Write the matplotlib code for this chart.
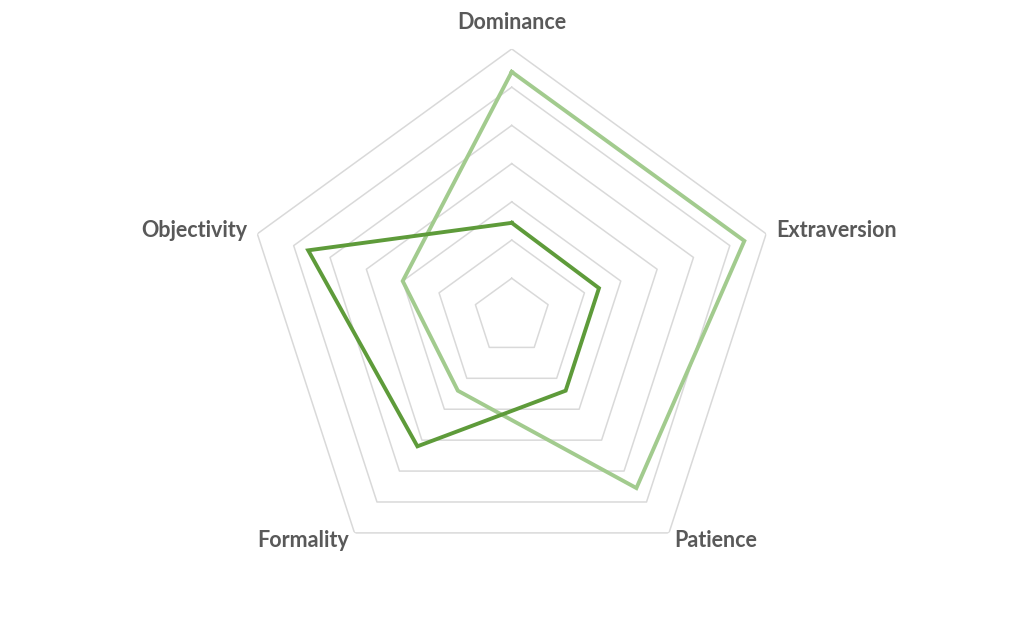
import numpy as np
import matplotlib
matplotlib.use("Agg")
import matplotlib.pyplot as plt

# radar values, 0..7 scale
axes_labels = ["Dominance", "Extraversion", "Patience", "Formality", "Objectivity"]
series_light = [6.4, 6.4, 5.55, 2.4, 3.0]
series_dark = [2.45, 2.4, 2.4, 4.2, 5.6]
ring_levels = [1, 2, 3, 4, 5, 6, 7]

LIGHT = "#a2cb8e"
DARK = "#5e9b3a"
GRID = "#d9d9d9"
TEXT = "#595959"

plt.rcParams["font.family"] = ["Lato", "DejaVu Sans"]

n = len(axes_labels)
theta = np.linspace(0, 2 * np.pi, n, endpoint=False)
theta_closed = np.append(theta, theta[0])

fig = plt.figure(figsize=(10.24, 6.31), dpi=100)
# square polar axes centred at (512, 316) px, outer ring radius ~268 px
ax = fig.add_axes([0.2385, 0.0745, 0.5225, 0.8479], projection="polar")
ax.set_theta_offset(np.pi / 2)
ax.set_theta_direction(-1)
ax.set_ylim(0, ring_levels[-1])
ax.grid(False)
ax.spines["polar"].set_visible(False)
ax.set_xticks([])
ax.set_yticks([])
ax.patch.set_alpha(0)

# pentagon gridlines
for lvl in ring_levels:
    ax.plot(theta_closed, [lvl] * (n + 1), color=GRID, lw=1.1, zorder=1)

# series
ax.plot(theta_closed, series_light + series_light[:1], color=LIGHT, lw=2.8,
        solid_joinstyle="miter", zorder=3)
ax.plot(theta_closed, series_dark + series_dark[:1], color=DARK, lw=2.8,
        solid_joinstyle="miter", zorder=4)

# category labels just outside the outer ring
rmax = ring_levels[-1]
label_pos = [
    (rmax * 1.10, "center", "center"),
    (rmax * 1.04, "left", "center"),
    (rmax * 1.035, "left", "center"),
    (rmax * 1.035, "right", "center"),
    (rmax * 1.04, "right", "center"),
]
for t, lab, (r, ha, va) in zip(theta, axes_labels, label_pos):
    ax.text(t, r, lab, ha=ha, va=va, fontsize=15.5, fontweight="bold",
            color=TEXT, clip_on=False)

fig.savefig("out.png", dpi=100)
